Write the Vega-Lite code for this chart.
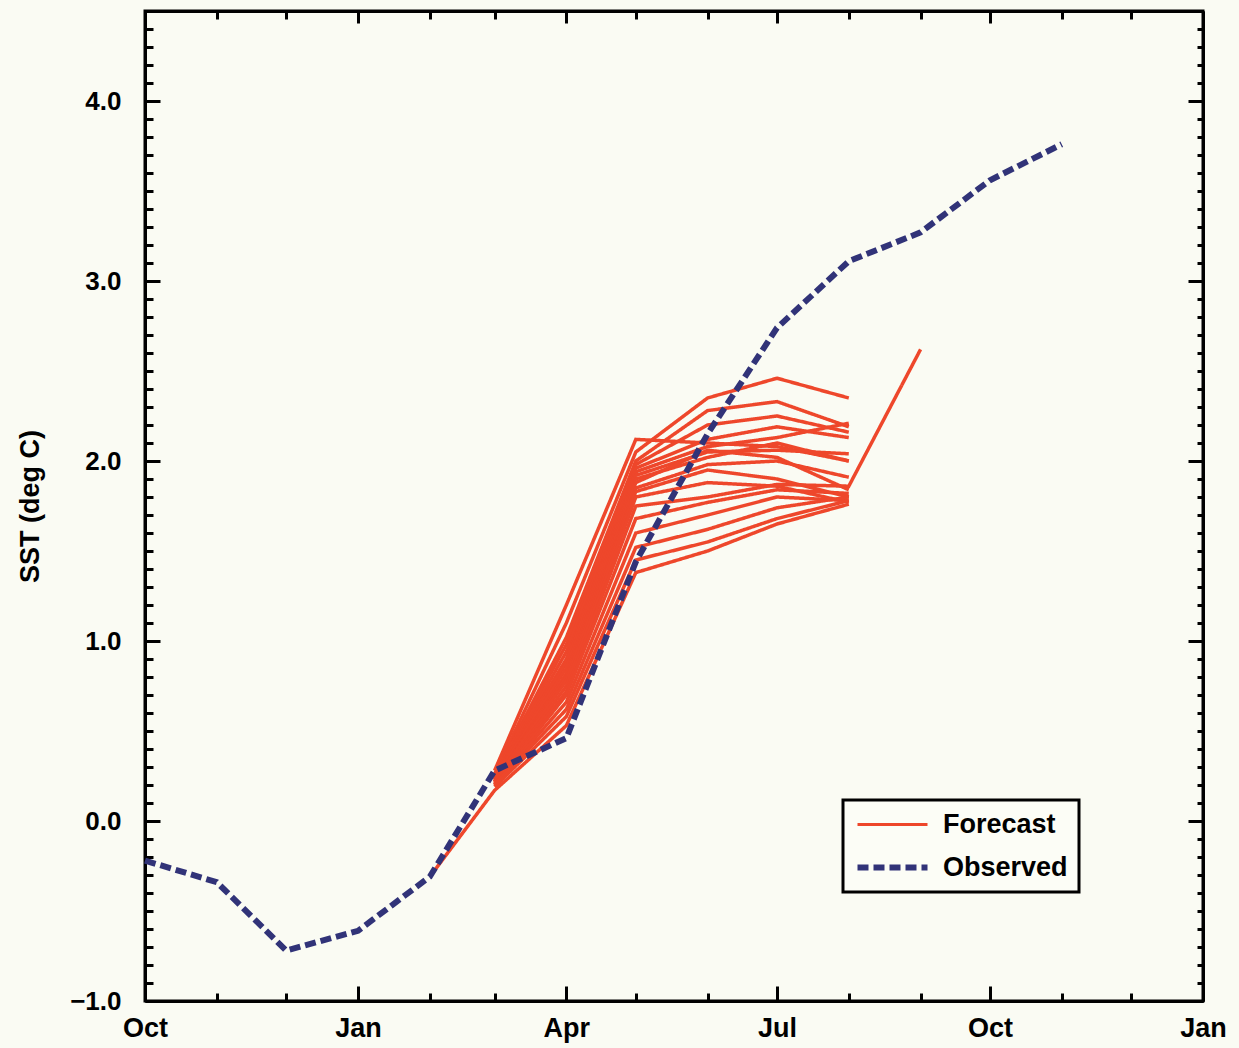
{
  "$schema": "https://vega.github.io/schema/vega-lite/v6.json",
  "width": 1058,
  "height": 990,
  "autosize": {"type": "none"},
  "padding": {"left": 145, "top": 11, "right": 36, "bottom": 47},
  "background": "#fafbf3",
  "config": {
    "view": {"stroke": "black", "strokeWidth": 3},
    "axis": {
      "domainColor": "black", "domainWidth": 3, "tickColor": "black", "tickWidth": 3,
      "labelColor": "black", "labelFontWeight": "bold", "grid": false
    },
    "legend": {
      "orient": "none", "legendX": 698, "legendY": 789,
      "strokeColor": "black", "strokeWidth": 3, "fillColor": "#fcfdf6", "padding": 11,
      "labelFont": "Liberation Sans", "labelFontSize": 27, "labelFontWeight": "bold", "labelColor": "black",
      "symbolType": "stroke", "symbolSize": 4900, "symbolStrokeWidth": 5, "symbolOffset": 25, "labelOffset": 37, "rowPadding": 15
    }
  },
  "datasets": {
    "forecast": [
      {"m": 1, "series": "Forecast", "date": "1997-03-01", "sst": 0.28}, {"m": 1, "series": "Forecast", "date": "1997-04-01", "sst": 1.2}, {"m": 1, "series": "Forecast", "date": "1997-05-01", "sst": 2.12}, {"m": 1, "series": "Forecast", "date": "1997-06-01", "sst": 2.1}, {"m": 1, "series": "Forecast", "date": "1997-07-01", "sst": 2.08}, {"m": 1, "series": "Forecast", "date": "1997-08-01", "sst": 2.0},
      {"m": 2, "series": "Forecast", "date": "1997-03-01", "sst": 0.26}, {"m": 2, "series": "Forecast", "date": "1997-04-01", "sst": 1.1}, {"m": 2, "series": "Forecast", "date": "1997-05-01", "sst": 2.05}, {"m": 2, "series": "Forecast", "date": "1997-06-01", "sst": 2.35}, {"m": 2, "series": "Forecast", "date": "1997-07-01", "sst": 2.46}, {"m": 2, "series": "Forecast", "date": "1997-08-01", "sst": 2.35},
      {"m": 3, "series": "Forecast", "date": "1997-03-01", "sst": 0.25}, {"m": 3, "series": "Forecast", "date": "1997-04-01", "sst": 1.02}, {"m": 3, "series": "Forecast", "date": "1997-05-01", "sst": 2.0}, {"m": 3, "series": "Forecast", "date": "1997-06-01", "sst": 2.28}, {"m": 3, "series": "Forecast", "date": "1997-07-01", "sst": 2.33}, {"m": 3, "series": "Forecast", "date": "1997-08-01", "sst": 2.19},
      {"m": 4, "series": "Forecast", "date": "1997-03-01", "sst": 0.25}, {"m": 4, "series": "Forecast", "date": "1997-04-01", "sst": 0.98}, {"m": 4, "series": "Forecast", "date": "1997-05-01", "sst": 1.98}, {"m": 4, "series": "Forecast", "date": "1997-06-01", "sst": 2.2}, {"m": 4, "series": "Forecast", "date": "1997-07-01", "sst": 2.25}, {"m": 4, "series": "Forecast", "date": "1997-08-01", "sst": 2.16},
      {"m": 5, "series": "Forecast", "date": "1997-03-01", "sst": 0.24}, {"m": 5, "series": "Forecast", "date": "1997-04-01", "sst": 0.94}, {"m": 5, "series": "Forecast", "date": "1997-05-01", "sst": 1.96}, {"m": 5, "series": "Forecast", "date": "1997-06-01", "sst": 2.12}, {"m": 5, "series": "Forecast", "date": "1997-07-01", "sst": 2.19}, {"m": 5, "series": "Forecast", "date": "1997-08-01", "sst": 2.13},
      {"m": 6, "series": "Forecast", "date": "1997-03-01", "sst": 0.24}, {"m": 6, "series": "Forecast", "date": "1997-04-01", "sst": 0.9}, {"m": 6, "series": "Forecast", "date": "1997-05-01", "sst": 1.94}, {"m": 6, "series": "Forecast", "date": "1997-06-01", "sst": 2.08}, {"m": 6, "series": "Forecast", "date": "1997-07-01", "sst": 2.13}, {"m": 6, "series": "Forecast", "date": "1997-08-01", "sst": 2.21},
      {"m": 7, "series": "Forecast", "date": "1997-03-01", "sst": 0.23}, {"m": 7, "series": "Forecast", "date": "1997-04-01", "sst": 0.88}, {"m": 7, "series": "Forecast", "date": "1997-05-01", "sst": 1.92}, {"m": 7, "series": "Forecast", "date": "1997-06-01", "sst": 2.05}, {"m": 7, "series": "Forecast", "date": "1997-07-01", "sst": 2.06}, {"m": 7, "series": "Forecast", "date": "1997-08-01", "sst": 2.04},
      {"m": 8, "series": "Forecast", "date": "1997-03-01", "sst": 0.23}, {"m": 8, "series": "Forecast", "date": "1997-04-01", "sst": 0.85}, {"m": 8, "series": "Forecast", "date": "1997-05-01", "sst": 1.9}, {"m": 8, "series": "Forecast", "date": "1997-06-01", "sst": 2.02}, {"m": 8, "series": "Forecast", "date": "1997-07-01", "sst": 2.1}, {"m": 8, "series": "Forecast", "date": "1997-08-01", "sst": 2.0},
      {"m": 9, "series": "Forecast", "date": "1997-03-01", "sst": 0.22}, {"m": 9, "series": "Forecast", "date": "1997-04-01", "sst": 0.82}, {"m": 9, "series": "Forecast", "date": "1997-05-01", "sst": 1.88}, {"m": 9, "series": "Forecast", "date": "1997-06-01", "sst": 2.06}, {"m": 9, "series": "Forecast", "date": "1997-07-01", "sst": 2.02}, {"m": 9, "series": "Forecast", "date": "1997-08-01", "sst": 1.84},
      {"m": 10, "series": "Forecast", "date": "1997-03-01", "sst": 0.22}, {"m": 10, "series": "Forecast", "date": "1997-04-01", "sst": 0.8}, {"m": 10, "series": "Forecast", "date": "1997-05-01", "sst": 1.85}, {"m": 10, "series": "Forecast", "date": "1997-06-01", "sst": 1.98}, {"m": 10, "series": "Forecast", "date": "1997-07-01", "sst": 2.0}, {"m": 10, "series": "Forecast", "date": "1997-08-01", "sst": 1.91},
      {"m": 11, "series": "Forecast", "date": "1997-03-01", "sst": 0.22}, {"m": 11, "series": "Forecast", "date": "1997-04-01", "sst": 0.78}, {"m": 11, "series": "Forecast", "date": "1997-05-01", "sst": 1.83}, {"m": 11, "series": "Forecast", "date": "1997-06-01", "sst": 1.95}, {"m": 11, "series": "Forecast", "date": "1997-07-01", "sst": 1.9}, {"m": 11, "series": "Forecast", "date": "1997-08-01", "sst": 1.8},
      {"m": 12, "series": "Forecast", "date": "1997-03-01", "sst": 0.21}, {"m": 12, "series": "Forecast", "date": "1997-04-01", "sst": 0.75}, {"m": 12, "series": "Forecast", "date": "1997-05-01", "sst": 1.8}, {"m": 12, "series": "Forecast", "date": "1997-06-01", "sst": 1.88}, {"m": 12, "series": "Forecast", "date": "1997-07-01", "sst": 1.86}, {"m": 12, "series": "Forecast", "date": "1997-08-01", "sst": 1.77},
      {"m": 13, "series": "Forecast", "date": "1997-03-01", "sst": 0.21}, {"m": 13, "series": "Forecast", "date": "1997-04-01", "sst": 0.72}, {"m": 13, "series": "Forecast", "date": "1997-05-01", "sst": 1.75}, {"m": 13, "series": "Forecast", "date": "1997-06-01", "sst": 1.8}, {"m": 13, "series": "Forecast", "date": "1997-07-01", "sst": 1.87}, {"m": 13, "series": "Forecast", "date": "1997-08-01", "sst": 1.86}, {"m": 13, "series": "Forecast", "date": "1997-09-01", "sst": 2.62},
      {"m": 14, "series": "Forecast", "date": "1997-03-01", "sst": 0.2}, {"m": 14, "series": "Forecast", "date": "1997-04-01", "sst": 0.7}, {"m": 14, "series": "Forecast", "date": "1997-05-01", "sst": 1.68}, {"m": 14, "series": "Forecast", "date": "1997-06-01", "sst": 1.77}, {"m": 14, "series": "Forecast", "date": "1997-07-01", "sst": 1.84}, {"m": 14, "series": "Forecast", "date": "1997-08-01", "sst": 1.82},
      {"m": 15, "series": "Forecast", "date": "1997-03-01", "sst": 0.2}, {"m": 15, "series": "Forecast", "date": "1997-04-01", "sst": 0.66}, {"m": 15, "series": "Forecast", "date": "1997-05-01", "sst": 1.6}, {"m": 15, "series": "Forecast", "date": "1997-06-01", "sst": 1.7}, {"m": 15, "series": "Forecast", "date": "1997-07-01", "sst": 1.8}, {"m": 15, "series": "Forecast", "date": "1997-08-01", "sst": 1.78},
      {"m": 16, "series": "Forecast", "date": "1997-03-01", "sst": 0.2}, {"m": 16, "series": "Forecast", "date": "1997-04-01", "sst": 0.62}, {"m": 16, "series": "Forecast", "date": "1997-05-01", "sst": 1.52}, {"m": 16, "series": "Forecast", "date": "1997-06-01", "sst": 1.62}, {"m": 16, "series": "Forecast", "date": "1997-07-01", "sst": 1.74}, {"m": 16, "series": "Forecast", "date": "1997-08-01", "sst": 1.8},
      {"m": 17, "series": "Forecast", "date": "1997-03-01", "sst": 0.19}, {"m": 17, "series": "Forecast", "date": "1997-04-01", "sst": 0.58}, {"m": 17, "series": "Forecast", "date": "1997-05-01", "sst": 1.45}, {"m": 17, "series": "Forecast", "date": "1997-06-01", "sst": 1.55}, {"m": 17, "series": "Forecast", "date": "1997-07-01", "sst": 1.68}, {"m": 17, "series": "Forecast", "date": "1997-08-01", "sst": 1.78},
      {"m": 18, "series": "Forecast", "date": "1997-02-01", "sst": -0.31}, {"m": 18, "series": "Forecast", "date": "1997-03-01", "sst": 0.17}, {"m": 18, "series": "Forecast", "date": "1997-04-01", "sst": 0.53}, {"m": 18, "series": "Forecast", "date": "1997-05-01", "sst": 1.38}, {"m": 18, "series": "Forecast", "date": "1997-06-01", "sst": 1.5}, {"m": 18, "series": "Forecast", "date": "1997-07-01", "sst": 1.65}, {"m": 18, "series": "Forecast", "date": "1997-08-01", "sst": 1.76}
    ],
    "observed": [
      {"series": "Observed", "date": "1996-10-01", "sst": -0.22},
      {"series": "Observed", "date": "1996-11-01", "sst": -0.34},
      {"series": "Observed", "date": "1996-12-01", "sst": -0.72},
      {"series": "Observed", "date": "1997-01-01", "sst": -0.61},
      {"series": "Observed", "date": "1997-02-01", "sst": -0.31},
      {"series": "Observed", "date": "1997-03-01", "sst": 0.28},
      {"series": "Observed", "date": "1997-04-01", "sst": 0.46},
      {"series": "Observed", "date": "1997-05-01", "sst": 1.44},
      {"series": "Observed", "date": "1997-06-01", "sst": 2.15},
      {"series": "Observed", "date": "1997-07-01", "sst": 2.74},
      {"series": "Observed", "date": "1997-08-01", "sst": 3.11},
      {"series": "Observed", "date": "1997-09-01", "sst": 3.27},
      {"series": "Observed", "date": "1997-10-01", "sst": 3.56},
      {"series": "Observed", "date": "1997-11-01", "sst": 3.76}
    ]
  },
  "layer": [
    {
      "mark": {"type": "rule", "color": "black", "strokeWidth": 3},
      "encoding": {"y": {"datum": 0, "type": "quantitative", "axis": null, "scale": {"domain": [-1, 4.5], "nice": false, "zero": false}}}
    },
    {
      "data": {"name": "forecast"},
      "mark": {"type": "line", "strokeWidth": 3.5, "interpolate": "linear"},
      "encoding": {
        "x": {
          "field": "date", "type": "temporal",
          "scale": {"type": "utc", "domain": [{"year": 1996, "month": 10, "date": 1, "utc": true}, {"year": 1998, "month": 1, "date": 1, "utc": true}], "nice": false},
          "axis": {
            "orient": "bottom", "title": null,
            "values": [
              {"year": 1996, "month": 10, "date": 1, "utc": true}, {"year": 1996, "month": 11, "date": 1, "utc": true}, {"year": 1996, "month": 12, "date": 1, "utc": true},
              {"year": 1997, "month": 1, "date": 1, "utc": true}, {"year": 1997, "month": 2, "date": 1, "utc": true}, {"year": 1997, "month": 3, "date": 1, "utc": true},
              {"year": 1997, "month": 4, "date": 1, "utc": true}, {"year": 1997, "month": 5, "date": 1, "utc": true}, {"year": 1997, "month": 6, "date": 1, "utc": true},
              {"year": 1997, "month": 7, "date": 1, "utc": true}, {"year": 1997, "month": 8, "date": 1, "utc": true}, {"year": 1997, "month": 9, "date": 1, "utc": true},
              {"year": 1997, "month": 10, "date": 1, "utc": true}, {"year": 1997, "month": 11, "date": 1, "utc": true}, {"year": 1997, "month": 12, "date": 1, "utc": true},
              {"year": 1998, "month": 1, "date": 1, "utc": true}
            ],
            "tickSize": {"condition": {"test": "utcmonth(datum.value) % 3 == 0", "value": -15}, "value": -8},
            "labelExpr": "utcmonth(datum.value) % 3 == 0 ? utcFormat(datum.value, '%b') : ''",
            "labelFont": "Liberation Sans", "labelFontSize": 27, "labelPadding": 29, "labelFlush": false, "labelOverlap": false
          }
        },
        "y": {
          "field": "sst", "type": "quantitative",
          "scale": {"domain": [-1, 4.5], "nice": false, "zero": false},
          "axis": {
            "orient": "left",
            "values": [-1, -0.9, -0.8, -0.7, -0.6, -0.5, -0.4, -0.3, -0.2, -0.1, 0, 0.1, 0.2, 0.3, 0.4, 0.5, 0.6, 0.7, 0.8, 0.9, 1, 1.1, 1.2, 1.3, 1.4, 1.5, 1.6, 1.7, 1.8, 1.9, 2, 2.1, 2.2, 2.3, 2.4, 2.5, 2.6, 2.7, 2.8, 2.9, 3, 3.1, 3.2, 3.3, 3.4, 3.5, 3.6, 3.7, 3.8, 3.9, 4, 4.1, 4.2, 4.3, 4.4, 4.5],
            "tickSize": {"condition": {"test": "abs(datum.value - round(datum.value)) < 0.001", "value": -15}, "value": -8},
            "labelExpr": "abs(datum.value - round(datum.value)) < 0.001 ? format(datum.value, '.1f') : ''",
            "labelFont": "Liberation Sans", "labelFontSize": 26, "labelPadding": 39, "labelFlush": false, "labelOverlap": false,
            "title": "SST (deg C)", "titleFont": "Liberation Sans", "titleFontSize": 27, "titleFontWeight": "bold", "titleColor": "black",
            "titleX": -115, "titleY": 495, "titleAngle": 270, "titleAlign": "center", "titleBaseline": "middle"
          }
        },
        "color": {
          "field": "series", "type": "nominal",
          "scale": {"domain": ["Forecast", "Observed"], "range": ["#ee472b", "#313378"]},
          "legend": {
            "title": null,
            "encode": {"symbols": {"update": {"strokeWidth": {"signal": "datum.value === 'Observed' ? 6 : 3"}}}}
          }
        },
        "strokeDash": {
          "field": "series", "type": "nominal",
          "scale": {"domain": ["Forecast", "Observed"], "range": [[1, 0], [11, 5]]},
          "legend": {"title": null}
        },
        "detail": {"field": "m", "type": "nominal"}
      }
    },
    {
      "data": {"name": "observed"},
      "mark": {"type": "line", "strokeWidth": 6, "interpolate": "linear"},
      "encoding": {
        "x": {
          "field": "date", "type": "temporal",
          "scale": {"type": "utc", "domain": [{"year": 1996, "month": 10, "date": 1, "utc": true}, {"year": 1998, "month": 1, "date": 1, "utc": true}], "nice": false},
          "axis": {
            "orient": "top", "title": null, "labels": false,
            "values": [
              {"year": 1996, "month": 10, "date": 1, "utc": true}, {"year": 1996, "month": 11, "date": 1, "utc": true}, {"year": 1996, "month": 12, "date": 1, "utc": true},
              {"year": 1997, "month": 1, "date": 1, "utc": true}, {"year": 1997, "month": 2, "date": 1, "utc": true}, {"year": 1997, "month": 3, "date": 1, "utc": true},
              {"year": 1997, "month": 4, "date": 1, "utc": true}, {"year": 1997, "month": 5, "date": 1, "utc": true}, {"year": 1997, "month": 6, "date": 1, "utc": true},
              {"year": 1997, "month": 7, "date": 1, "utc": true}, {"year": 1997, "month": 8, "date": 1, "utc": true}, {"year": 1997, "month": 9, "date": 1, "utc": true},
              {"year": 1997, "month": 10, "date": 1, "utc": true}, {"year": 1997, "month": 11, "date": 1, "utc": true}, {"year": 1997, "month": 12, "date": 1, "utc": true},
              {"year": 1998, "month": 1, "date": 1, "utc": true}
            ],
            "tickSize": {"condition": {"test": "utcmonth(datum.value) % 3 == 0", "value": -12}, "value": -8}
          }
        },
        "y": {
          "field": "sst", "type": "quantitative",
          "scale": {"domain": [-1, 4.5], "nice": false, "zero": false},
          "axis": {
            "orient": "right", "title": null, "labels": false,
            "values": [-1, -0.9, -0.8, -0.7, -0.6, -0.5, -0.4, -0.3, -0.2, -0.1, 0, 0.1, 0.2, 0.3, 0.4, 0.5, 0.6, 0.7, 0.8, 0.9, 1, 1.1, 1.2, 1.3, 1.4, 1.5, 1.6, 1.7, 1.8, 1.9, 2, 2.1, 2.2, 2.3, 2.4, 2.5, 2.6, 2.7, 2.8, 2.9, 3, 3.1, 3.2, 3.3, 3.4, 3.5, 3.6, 3.7, 3.8, 3.9, 4, 4.1, 4.2, 4.3, 4.4, 4.5],
            "tickSize": {"condition": {"test": "abs(datum.value - round(datum.value)) < 0.001", "value": -15}, "value": -6}
          }
        },
        "color": {"field": "series", "type": "nominal", "scale": {"domain": ["Forecast", "Observed"], "range": ["#ee472b", "#313378"]}},
        "strokeDash": {"field": "series", "type": "nominal", "scale": {"domain": ["Forecast", "Observed"], "range": [[1, 0], [11, 5]]}}
      }
    }
  ],
  "resolve": {"axis": {"x": "independent", "y": "independent"}}
}
